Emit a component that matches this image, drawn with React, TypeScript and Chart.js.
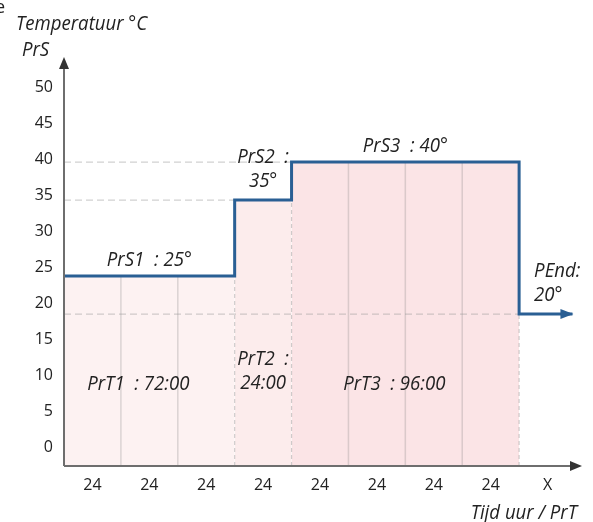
import { useEffect, useRef } from 'react';
import { Chart, registerables } from 'chart.js';

Chart.register(...registerables);

// ---------- data ----------
const xLabels = ['24', '24', '24', '24', '24', '24', '24', '24', 'X'];
const yTicks = [0, 5, 10, 15, 20, 25, 30, 35, 40, 45, 50];
const stageNames = ['PrS1', 'PrS2', 'PrS3'];
const stageTemps = [25, 35, 40];
const timeNames = ['PrT1', 'PrT2', 'PrT3'];
const stageHours = [72, 24, 96];
const stageTimes = ['72:00', '24:00', '96:00'];
const endName = 'PEnd';
const endTemp = 20;
const hourStep = 24;
const timeLabelLevel = 10;
const yTitleLines = ['Temperatuur °C', 'PrS'];
const xTitle = 'Tijd uur / PrT';

// ---------- style ----------
const fillColors = ['#fdf2f2', '#fcecec', '#fbe4e6'];
const stepColor = '#2a5f94';
const axisColor = '#6e6e6e';
const textColor = '#222222';
const labelFont = 'italic 20px "Open Sans", sans-serif';
const labelScaleX = 0.93;
const tickFont = { family: '"Open Sans", sans-serif', size: 16 };
const endArrowHours = 22.5;
const totalHours = xLabels.length * hourStep;

const starts: number[] = [];
const ends: number[] = [];
stageHours.reduce((acc, h) => {
  starts.push(acc);
  ends.push(acc + h);
  return acc + h;
}, 0);
const lastEnd = ends[ends.length - 1];

export default function App() {
  const ref = useRef<HTMLCanvasElement>(null);

  useEffect(() => {
    document.body.style.margin = '0';
    const canvas = ref.current;
    if (!canvas) return;

    const fills = stageTemps.map((t, i) => ({
      type: 'line' as const,
      data: [
        { x: starts[i], y: t },
        { x: ends[i], y: t },
      ],
      fill: 'origin',
      backgroundColor: fillColors[i],
      borderWidth: 0,
      pointRadius: 0,
      order: 30,
      xAxisID: 'xh',
      yAxisID: 'y',
    }));

    const solidGrid: any[] = [];
    stageTemps.forEach((t, i) => {
      for (let h = starts[i] + hourStep; h < ends[i]; h += hourStep) {
        solidGrid.push({ x: h, y: 0 }, { x: h, y: t }, { x: h, y: null });
      }
    });
    const nextTemps = [...stageTemps.slice(1), endTemp];
    const dashedGrid: any[] = [];
    stageTemps.forEach((t, i) => {
      const top = Math.min(t, nextTemps[i]);
      dashedGrid.push({ x: ends[i], y: 0 }, { x: ends[i], y: top }, { x: ends[i], y: null });
    });
    const refLines: any[] = [];
    stageTemps.forEach((t, i) => {
      if (starts[i] > 0) refLines.push({ x: 0, y: t }, { x: starts[i], y: t }, { x: starts[i], y: null });
    });
    refLines.push({ x: 0, y: endTemp }, { x: lastEnd, y: endTemp });

    const stepData = [
      ...stageTemps.map((t, i) => ({ x: starts[i], y: t })),
      { x: lastEnd, y: endTemp },
      { x: lastEnd + endArrowHours, y: endTemp },
    ];

    const overlay = {
      id: 'overlay',
      afterDatasetsDraw(chart: any) {
        const { ctx, chartArea } = chart;
        const xs = chart.scales.xh;
        const ys = chart.scales.y;
        ctx.save();
        // axes
        ctx.strokeStyle = axisColor;
        ctx.lineWidth = 2;
        ctx.beginPath();
        ctx.moveTo(chartArea.left, chartArea.bottom);
        ctx.lineTo(chartArea.left, chartArea.top + 8);
        ctx.moveTo(chartArea.left, chartArea.bottom);
        ctx.lineTo(chartArea.right, chartArea.bottom);
        ctx.stroke();
        ctx.fillStyle = '#333';
        ctx.beginPath();
        ctx.moveTo(chartArea.left, chartArea.top - 1);
        ctx.lineTo(chartArea.left - 5, chartArea.top + 11);
        ctx.lineTo(chartArea.left + 5, chartArea.top + 11);
        ctx.closePath();
        ctx.fill();
        ctx.beginPath();
        ctx.moveTo(chartArea.right + 6, chartArea.bottom);
        ctx.lineTo(chartArea.right - 6, chartArea.bottom - 5);
        ctx.lineTo(chartArea.right - 6, chartArea.bottom + 5);
        ctx.closePath();
        ctx.fill();
        // step arrow head
        const last = stepData[stepData.length - 1];
        const ax = xs.getPixelForValue(last.x);
        const ay = ys.getPixelForValue(last.y);
        ctx.fillStyle = stepColor;
        ctx.beginPath();
        ctx.moveTo(ax + 1, ay);
        ctx.lineTo(ax - 12, ay - 5);
        ctx.lineTo(ax - 12, ay + 5);
        ctx.closePath();
        ctx.fill();

        // labels
        ctx.fillStyle = textColor;
        ctx.font = labelFont;
        ctx.textBaseline = 'alphabetic';
        const put = (text: string, x: number, y: number, align: CanvasTextAlign) => {
          ctx.save();
          ctx.translate(x, y);
          ctx.scale(labelScaleX, 1);
          ctx.textAlign = align;
          ctx.fillText(text, 0, 0);
          ctx.restore();
        };
        stageTemps.forEach((t, i) => {
          const cx = (xs.getPixelForValue(starts[i]) + xs.getPixelForValue(ends[i])) / 2;
          const py = ys.getPixelForValue(t);
          const narrow = stageHours[i] < 2 * hourStep;
          if (narrow) {
            put(`${stageNames[i]}  :`, cx, py - 37, 'center');
            put(`${t}°`, cx, py - 13, 'center');
          } else {
            put(`${stageNames[i]}  : ${t}°`, cx, py - 10, 'center');
          }
          const ty = ys.getPixelForValue(timeLabelLevel);
          if (narrow) {
            put(`${timeNames[i]}  :`, cx, ty - 25, 'center');
            put(stageTimes[i], cx, ty - 1, 'center');
          } else {
            put(`${timeNames[i]}  : ${stageTimes[i]}`, cx - 11, ty, 'center');
          }
        });
        const ex = xs.getPixelForValue(lastEnd);
        const ey = ys.getPixelForValue(endTemp);
        put(`${endName}:`, ex + 15, ey - 37, 'left');
        put(`${endTemp}°`, ex + 15, ey - 13, 'left');

        // axis titles
        put(yTitleLines[0], 16, 30, 'left');
        put(yTitleLines[1], 22, 56, 'left');
        put(xTitle, chartArea.right + 1, 519, 'right');
        ctx.font = '18px "Open Sans", sans-serif';
        ctx.textAlign = 'left';
        ctx.fillText('e', -5, 13);
        ctx.restore();
      },
    };

    const chart = new Chart(canvas, {
      type: 'line',
      data: {
        labels: xLabels,
        datasets: [
          {
            data: stepData,
            stepped: true,
            borderColor: stepColor,
            borderWidth: 3,
            pointRadius: 0,
            fill: false,
            order: 0,
            xAxisID: 'xh',
            yAxisID: 'y',
          },
          {
            data: refLines,
            borderColor: 'rgba(150,150,150,0.45)',
            borderWidth: 1.2,
            borderDash: [7, 4],
            pointRadius: 0,
            fill: false,
            order: 10,
            xAxisID: 'xh',
            yAxisID: 'y',
          },
          {
            data: dashedGrid,
            borderColor: 'rgba(150,150,150,0.45)',
            borderWidth: 1.2,
            borderDash: [4, 3],
            pointRadius: 0,
            fill: false,
            order: 11,
            xAxisID: 'xh',
            yAxisID: 'y',
          },
          {
            data: solidGrid,
            borderColor: 'rgba(120,120,120,0.25)',
            borderWidth: 1.5,
            pointRadius: 0,
            fill: false,
            order: 12,
            xAxisID: 'xh',
            yAxisID: 'y',
          },
          ...fills,
        ] as any,
      },
      options: {
        responsive: false,
        animation: false,
        devicePixelRatio: 1,
        layout: { padding: { top: 58, right: 17, left: 0, bottom: 0 } },
        plugins: { legend: { display: false }, tooltip: { enabled: false } },
        scales: {
          x: {
            type: 'category',
            position: 'bottom',
            offset: true,
            grid: { display: false, drawTicks: false },
            border: { display: false },
            ticks: { font: tickFont, color: textColor, padding: 10, maxRotation: 0, autoSkip: false },
            afterFit: (s: any) => {
              s.height = 56;
            },
          },
          xh: { type: 'linear', display: false, min: 0, max: totalHours },
          y: { type: 'linear', display: false, min: 0, max: 53.7 },
          yt: {
            type: 'linear',
            position: 'left',
            min: -2.57,
            max: 54.02,
            grid: { display: false, drawTicks: false },
            border: { display: false },
            ticks: { font: tickFont, color: textColor, padding: 11 },
            afterBuildTicks: (s: any) => {
              s.ticks = yTicks.map((v) => ({ value: v }));
            },
            afterFit: (s: any) => {
              s.width = 64;
            },
          },
        },
      } as any,
      plugins: [overlay],
    });

    return () => chart.destroy();
  }, []);

  return (
    <div style={{ width: 593, height: 522 }}>
      <canvas ref={ref} width={593} height={522} />
    </div>
  );
}
